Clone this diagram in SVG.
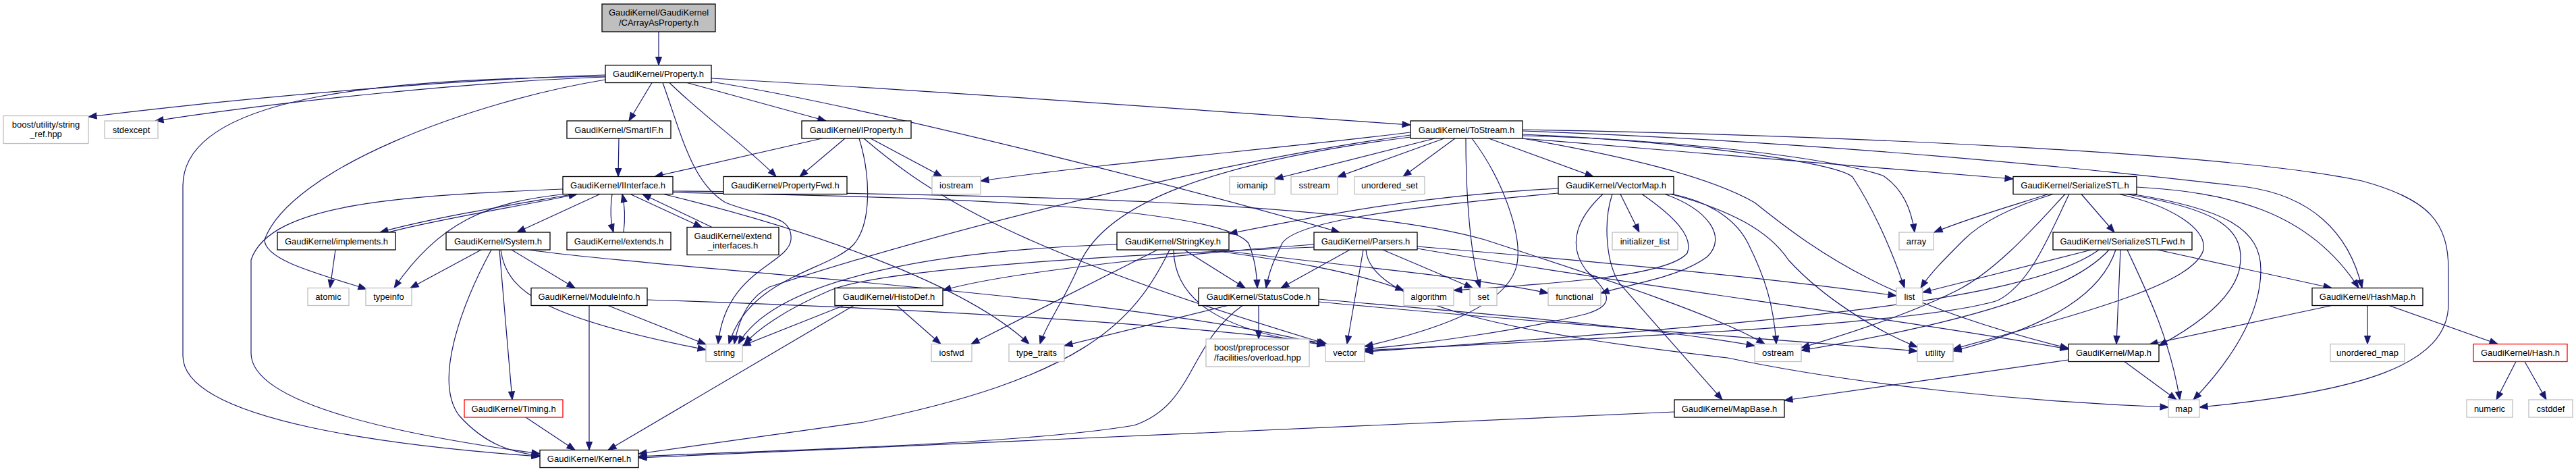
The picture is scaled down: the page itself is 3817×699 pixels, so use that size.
<svg xmlns="http://www.w3.org/2000/svg" width="3817" height="699" viewBox="0 0 3817 699">
<style>
rect{fill:#fff;stroke:#000;stroke-width:1.3}
.g rect{stroke:#bfbfbf}
.r rect{stroke:#f00}
.root rect{fill:#bfbfbf}
text{font-family:"Liberation Sans",Arial,sans-serif;font-size:13px;text-anchor:middle;fill:#000}
#edges path{fill:none;stroke:#191970;stroke-width:1.2;marker-end:url(#a)}
</style>
<defs>
<marker id="a" markerWidth="13" markerHeight="10" refX="12" refY="5" orient="auto" markerUnits="userSpaceOnUse" overflow="visible"><path d="M0,0.5 L12,5 L0,9.5 z" fill="#191970" stroke="#191970" stroke-width="1"/></marker>
</defs>
<rect x="0" y="0" width="3817" height="699" style="fill:#fff;stroke:none"/>
<g id="edges">
<path d="M976,47 L976,96.5"/>
<path d="M897,111 C700,117 400,140 131,173"/>
<path d="M897,114 C700,121 420,150 230,179"/>
<path d="M897,113 C600,117 271,135 271,275 L271,527 C271,625 600,662 800,676"/>
<path d="M897,118 C700,150 430,250 392,355 C392,385 470,405 543,428"/>
<path d="M834,280 C600,290 400,300 372,385 L372,523 C372,600 600,645 800,672"/>
<path d="M966,122.5 L932,179"/>
<path d="M982,122.5 C1010,200 1025,270 1075,300 C1130,322 1175,318 1172,355 C1168,392 1075,400 1064,509.5"/>
<path d="M992,122.5 C1040,170 1110,220 1150,261.5"/>
<path d="M1018,122.5 L1224,179"/>
<path d="M1054,116 C1400,135 1800,165 2090,185"/>
<path d="M1054,121 C1300,160 1800,290 1985,344"/>
<path d="M917,205 L916,261.5"/>
<path d="M1218,205 L970,261.5"/>
<path d="M1252,205 L1185,261.5"/>
<path d="M1290,205 L1396,261.5"/>
<path d="M1273,205 C1290,260 1292,330 1265,362 C1230,400 1110,410 1080,509.5"/>
<path d="M1280,205 C1380,290 1500,370 1966,509.5"/>
<path d="M836,287.5 C720,300 650,330 584,426.5"/>
<path d="M889,287.5 L766,344"/>
<path d="M907,287.5 C904,310 905,330 909,344"/>
<path d="M924,344 C927,320 926,305 922,287.5"/>
<path d="M934,287.5 L1040,336.5"/>
<path d="M1055,336.5 L952,287.5"/>
<path d="M850,287.5 C780,300 650,320 563,344"/>
<path d="M575,344 C660,322 790,302 855,287.5"/>
<path d="M983,287.5 C1200,340 1430,420 1525,509.5"/>
<path d="M997,285 C1300,290 1800,300 1850,360 C1860,385 1862,405 1863,426.5"/>
<path d="M997,283 C1500,288 2000,298 2200,355 C2400,420 2550,470 2615,509.5"/>
<path d="M713,370 L608,426.5"/>
<path d="M728,370 C690,440 640,560 680,615 C720,660 760,670 800,675"/>
<path d="M740,370 L759,592"/>
<path d="M742,370 C750,430 800,470 1046,518"/>
<path d="M758,370 L852,426.5"/>
<path d="M783,370 C1000,400 1700,440 1964,512"/>
<path d="M873,452.5 L873,666.5"/>
<path d="M901,452.5 L1046,510"/>
<path d="M959,444 C1300,455 1700,475 1964,508"/>
<path d="M779,618 L852,666.5"/>
<path d="M1265,452.5 L901,666.5"/>
<path d="M1250,452.5 L1100,512"/>
<path d="M1329,452.5 L1394,509.5"/>
<path d="M1655,362 C1400,370 1150,410 1094,509.5"/>
<path d="M1715,370 L1439,509.5"/>
<path d="M1733,370 C1680,480 1600,560 1280,625 C1100,650 1000,665 946,672"/>
<path d="M1755,370 L1845,426.5"/>
<path d="M1790,370 C1900,385 2000,400 2080,430"/>
<path d="M1805,370 C1950,390 2150,405 2294,434"/>
<path d="M1739,370 C1740,440 1800,490 1964,511"/>
<path d="M1947,366 C1600,380 1300,400 1230,430 C1160,460 1120,490 1103,509.5"/>
<path d="M1947,362 C1800,372 1500,400 1397,430"/>
<path d="M2000,370 L1898,426.5"/>
<path d="M2020,370 L1996,509.5"/>
<path d="M2049,370 L2182,426.5"/>
<path d="M2100,365 C2400,390 2650,415 2810,438"/>
<path d="M2100,368 C2400,420 2800,470 3065,517"/>
<path d="M2024,370 C2030,460 2300,500 2560,530 C2750,570 3000,595 3213,603"/>
<path d="M2090,196 C1900,220 1650,240 1453,268"/>
<path d="M2126,205 L1889,265"/>
<path d="M2140,205 L1982,262"/>
<path d="M2156,205 L2079,261.5"/>
<path d="M2172,205 C2172,300 2180,380 2193,426.5"/>
<path d="M2181,205 C2230,270 2255,350 2248,390 C2235,460 2100,495 2022,513"/>
<path d="M2206,205 L2361,261.5"/>
<path d="M2090,200 C1800,240 1400,340 1140,425 C1110,440 1095,470 1088,509.5"/>
<path d="M2090,203 C1800,240 1640,300 1600,390 C1580,440 1550,480 1541,509.5"/>
<path d="M2256,201 C2450,205 2700,230 2790,260 C2820,280 2832,310 2837,344"/>
<path d="M2256,199 C2500,210 2720,240 2745,262 C2770,300 2800,360 2822,426.5"/>
<path d="M2256,205 C2500,225 2800,250 2983,265"/>
<path d="M2256,192 C2700,200 3300,225 3500,268 C3600,295 3628,330 3628,400 L3628,450 C3628,540 3500,580 3259,603"/>
<path d="M2256,194 C2700,210 3100,250 3330,277 C3420,290 3480,340 3500,426.5"/>
<path d="M2256,205 C2400,230 2530,260 2600,300 C2700,380 2800,450 3065,516"/>
<path d="M2309,279 C2100,290 1950,320 1821,346"/>
<path d="M2309,286 C2050,310 1920,330 1900,360 C1885,390 1880,405 1876,426.5"/>
<path d="M2375,287.5 C2340,320 2320,360 2350,400 C2380,430 2400,450 2350,465 C2250,490 2100,510 2022,517"/>
<path d="M2389,287.5 C2375,330 2380,390 2400,420 L2552,592"/>
<path d="M2401,287.5 L2429,344"/>
<path d="M2433,287.5 C2480,320 2510,350 2500,375 C2470,410 2300,420 2154,430"/>
<path d="M2467,287.5 C2530,310 2560,350 2530,380 C2490,410 2420,420 2372,434"/>
<path d="M2478,287.5 C2540,300 2575,330 2590,360 C2615,410 2628,450 2632,509.5"/>
<path d="M2476,287.5 C2560,310 2620,340 2650,385 C2700,440 2780,490 2841,514"/>
<path d="M3035,287.5 C2980,305 2920,322 2866,344"/>
<path d="M3042,287.5 C2970,310 2930,335 2910,355 C2880,385 2860,405 2846,426.5"/>
<path d="M3060,287.5 C3020,330 2960,400 2900,430 C2820,470 2720,500 2669,515"/>
<path d="M3066,287.5 C3040,340 3010,420 2960,445 C2850,480 2400,500 2022,519"/>
<path d="M3084,287.5 L3133,344"/>
<path d="M3166,277 C3300,285 3420,310 3495,426.5"/>
<path d="M3140,287.5 C3220,305 3270,340 3265,370 C3250,420 3100,460 2894,517"/>
<path d="M3150,287.5 C3290,310 3330,340 3318,400 C3305,450 3240,490 3199,512"/>
<path d="M3160,287.5 C3300,310 3350,340 3350,400 C3350,470 3300,540 3250,592"/>
<path d="M3099,370 L2849,433"/>
<path d="M3125,370 C3080,420 2960,470 2669,519"/>
<path d="M3135,370 C3115,430 3050,480 2894,520"/>
<path d="M3110,370 C3000,450 2600,480 2022,521"/>
<path d="M3142,370 L3136,509.5"/>
<path d="M3152,370 C3180,430 3215,500 3230,592"/>
<path d="M3197,370 L3455,426.5"/>
<path d="M1819,452.5 L1577,512"/>
<path d="M1841,452.5 C1760,510 1770,600 1680,630 C1500,660 1100,668 946,676"/>
<path d="M1865,452.5 L1865,502"/>
<path d="M1954,443 C2200,465 2450,485 2600,512"/>
<path d="M1954,447 C2300,480 2600,500 2841,520"/>
<path d="M497,370 L489,426.5"/>
<path d="M3455,452.5 L3185,510"/>
<path d="M3508,452.5 L3508,509.5"/>
<path d="M3540,452.5 L3701,509.5"/>
<path d="M3065,533 L2644,593"/>
<path d="M3148,535.5 L3225,592"/>
<path d="M3728,535.5 L3699,592"/>
<path d="M3741,535.5 L3773,592"/>
<path d="M2481,610 C2000,630 1400,660 946,678"/>
</g>
<g id="n0" class="root"><rect x="892" y="6" width="168" height="41"/><text x="976" y="23">GaudiKernel/GaudiKernel</text><text x="976" y="37.5">/CArrayAsProperty.h</text></g>
<g id="n1"><rect x="897" y="96.5" width="157" height="26"/><text x="975.5" y="114">GaudiKernel/Property.h</text></g>
<g id="n2" class="g"><rect x="5" y="171.5" width="126" height="41"/><text x="68" y="188.5">boost/utility/string</text><text x="68" y="203">_ref.hpp</text></g>
<g id="n3" class="g"><rect x="155" y="179" width="79" height="26"/><text x="194.5" y="196.5">stdexcept</text></g>
<g id="n4"><rect x="840" y="179" width="154" height="26"/><text x="917" y="196.5">GaudiKernel/SmartIF.h</text></g>
<g id="n5"><rect x="1188" y="179" width="162" height="26"/><text x="1269" y="196.5">GaudiKernel/IProperty.h</text></g>
<g id="n6"><rect x="2090" y="179" width="166" height="26"/><text x="2173" y="196.5">GaudiKernel/ToStream.h</text></g>
<g id="n7"><rect x="834" y="261.5" width="163" height="26"/><text x="915.5" y="279">GaudiKernel/IInterface.h</text></g>
<g id="n8"><rect x="1072" y="261.5" width="183" height="26"/><text x="1163.5" y="279">GaudiKernel/PropertyFwd.h</text></g>
<g id="n9" class="g"><rect x="1381" y="261.5" width="72" height="26"/><text x="1417" y="279">iostream</text></g>
<g id="n10" class="g"><rect x="1822" y="261.5" width="67" height="26"/><text x="1855.5" y="279">iomanip</text></g>
<g id="n11" class="g"><rect x="1913" y="261.5" width="69" height="26"/><text x="1947.5" y="279">sstream</text></g>
<g id="n12" class="g"><rect x="2007" y="261.5" width="104" height="26"/><text x="2059" y="279">unordered_set</text></g>
<g id="n13"><rect x="2309" y="261.5" width="171" height="26"/><text x="2394.5" y="279">GaudiKernel/VectorMap.h</text></g>
<g id="n14"><rect x="2983" y="261.5" width="183" height="26"/><text x="3074.5" y="279">GaudiKernel/SerializeSTL.h</text></g>
<g id="n15"><rect x="411" y="344" width="175" height="26"/><text x="498.5" y="361.5">GaudiKernel/implements.h</text></g>
<g id="n16"><rect x="661" y="344" width="154" height="26"/><text x="738" y="361.5">GaudiKernel/System.h</text></g>
<g id="n17"><rect x="840" y="344" width="154" height="26"/><text x="917" y="361.5">GaudiKernel/extends.h</text></g>
<g id="n18"><rect x="1018" y="336.5" width="136" height="41"/><text x="1086" y="353.5">GaudiKernel/extend</text><text x="1086" y="368">_interfaces.h</text></g>
<g id="n19"><rect x="1655" y="344" width="166" height="26"/><text x="1738" y="361.5">GaudiKernel/StringKey.h</text></g>
<g id="n20"><rect x="1947" y="344" width="153" height="26"/><text x="2023.5" y="361.5">GaudiKernel/Parsers.h</text></g>
<g id="n21" class="g"><rect x="2389" y="344" width="97" height="26"/><text x="2437.5" y="361.5">initializer_list</text></g>
<g id="n22" class="g"><rect x="2814" y="344" width="51" height="26"/><text x="2839.5" y="361.5">array</text></g>
<g id="n23"><rect x="3042" y="344" width="206" height="26"/><text x="3145" y="361.5">GaudiKernel/SerializeSTLFwd.h</text></g>
<g id="n24" class="g"><rect x="456" y="426.5" width="61" height="26"/><text x="486.5" y="444">atomic</text></g>
<g id="n25" class="g"><rect x="542" y="426.5" width="68" height="26"/><text x="576" y="444">typeinfo</text></g>
<g id="n26"><rect x="787" y="426.5" width="172" height="26"/><text x="873" y="444">GaudiKernel/ModuleInfo.h</text></g>
<g id="n27"><rect x="1237" y="426.5" width="160" height="26"/><text x="1317" y="444">GaudiKernel/HistoDef.h</text></g>
<g id="n28"><rect x="1776" y="426.5" width="178" height="26"/><text x="1865" y="444">GaudiKernel/StatusCode.h</text></g>
<g id="n29" class="g"><rect x="2080" y="426.5" width="74" height="26"/><text x="2117" y="444">algorithm</text></g>
<g id="n30" class="g"><rect x="2178" y="426.5" width="40" height="26"/><text x="2198" y="444">set</text></g>
<g id="n31" class="g"><rect x="2294" y="426.5" width="78" height="26"/><text x="2333" y="444">functional</text></g>
<g id="n32" class="g"><rect x="2810" y="426.5" width="39" height="26"/><text x="2829.5" y="444">list</text></g>
<g id="n33"><rect x="3426" y="426.5" width="164" height="26"/><text x="3508" y="444">GaudiKernel/HashMap.h</text></g>
<g id="n34" class="g"><rect x="1046" y="509.5" width="54" height="26"/><text x="1073" y="527">string</text></g>
<g id="n35" class="g"><rect x="1380" y="509.5" width="60" height="26"/><text x="1410" y="527">iosfwd</text></g>
<g id="n36" class="g"><rect x="1495" y="509.5" width="82" height="26"/><text x="1536" y="527">type_traits</text></g>
<g id="n37" class="g"><rect x="1787" y="502" width="153" height="41"/><text x="1799" y="519" style="text-anchor:start">boost/preprocessor</text><text x="1799" y="533.5" style="text-anchor:start">/facilities/overload.hpp</text></g>
<g id="n38" class="g"><rect x="1964" y="509.5" width="58" height="26"/><text x="1993" y="527">vector</text></g>
<g id="n39" class="g"><rect x="2600" y="509.5" width="69" height="26"/><text x="2634.5" y="527">ostream</text></g>
<g id="n40" class="g"><rect x="2841" y="509.5" width="53" height="26"/><text x="2867.5" y="527">utility</text></g>
<g id="n41"><rect x="3065" y="509.5" width="134" height="26"/><text x="3132" y="527">GaudiKernel/Map.h</text></g>
<g id="n42" class="g"><rect x="3453" y="509.5" width="110" height="26"/><text x="3508" y="527">unordered_map</text></g>
<g id="n43" class="r"><rect x="3665" y="509.5" width="139" height="26"/><text x="3734.5" y="527">GaudiKernel/Hash.h</text></g>
<g id="n44" class="r"><rect x="688" y="592" width="146" height="26"/><text x="761" y="609.5">GaudiKernel/Timing.h</text></g>
<g id="n45"><rect x="2481" y="592" width="163" height="26"/><text x="2562.5" y="609.5">GaudiKernel/MapBase.h</text></g>
<g id="n46" class="g"><rect x="3213" y="592" width="46" height="26"/><text x="3236" y="609.5">map</text></g>
<g id="n47" class="g"><rect x="3655" y="592" width="68" height="26"/><text x="3689" y="609.5">numeric</text></g>
<g id="n48" class="g"><rect x="3747" y="592" width="65" height="26"/><text x="3779.5" y="609.5">cstddef</text></g>
<g id="n49"><rect x="800" y="666.5" width="146" height="26"/><text x="873" y="684">GaudiKernel/Kernel.h</text></g>
</svg>
